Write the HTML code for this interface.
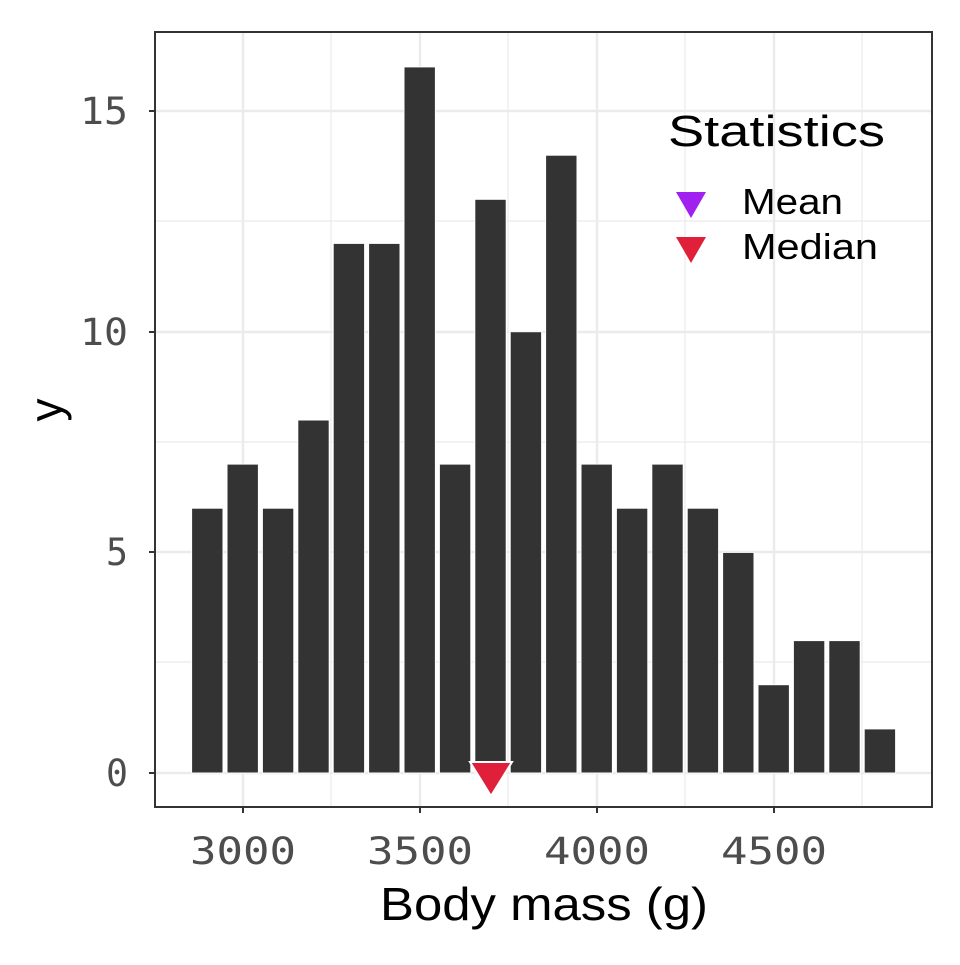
<!DOCTYPE html>
<html><head><style>body{margin:0;background:#fff}</style></head><body>
<svg width="960" height="960" xmlns="http://www.w3.org/2000/svg" font-family="Liberation Sans, sans-serif">
<rect width="960" height="960" fill="#fff"/>
<g stroke="#EBEBEB">
<g stroke-width="1.2">
<line x1="155" x2="932" y1="221" y2="221"/><line x1="155" x2="932" y1="442" y2="442"/><line x1="155" x2="932" y1="662" y2="662"/>
<line y1="32" y2="807" x1="331" x2="331"/><line y1="32" y2="807" x1="508" x2="508"/><line y1="32" y2="807" x1="685" x2="685"/><line y1="32" y2="807" x1="862" x2="862"/>
</g>
<g stroke-width="2.4">
<line x1="155" x2="932" y1="111" y2="111"/><line x1="155" x2="932" y1="332" y2="332"/><line x1="155" x2="932" y1="552" y2="552"/><line x1="155" x2="932" y1="773" y2="773"/>
<line y1="32" y2="807" x1="243" x2="243"/><line y1="32" y2="807" x1="420" x2="420"/><line y1="32" y2="807" x1="597" x2="597"/><line y1="32" y2="807" x1="774" x2="774"/>
</g></g>
<g fill="#333" stroke="#fff" stroke-width="1">
<rect x="191.6" y="508.2" width="31.4" height="264.8"/>
<rect x="227" y="464.1" width="31.4" height="308.9"/>
<rect x="262.4" y="508.2" width="31.4" height="264.8"/>
<rect x="297.8" y="420" width="31.4" height="353"/>
<rect x="333.2" y="243.4" width="31.4" height="529.6"/>
<rect x="368.6" y="243.4" width="31.4" height="529.6"/>
<rect x="404" y="66.9" width="31.4" height="706.1"/>
<rect x="439.4" y="464.1" width="31.4" height="308.9"/>
<rect x="474.8" y="199.3" width="31.4" height="573.7"/>
<rect x="510.2" y="331.7" width="31.4" height="441.3"/>
<rect x="545.6" y="155.2" width="31.4" height="617.8"/>
<rect x="581" y="464.1" width="31.4" height="308.9"/>
<rect x="616.4" y="508.2" width="31.4" height="264.8"/>
<rect x="651.8" y="464.1" width="31.4" height="308.9"/>
<rect x="687.2" y="508.2" width="31.4" height="264.8"/>
<rect x="722.6" y="552.4" width="31.4" height="220.6"/>
<rect x="758" y="684.7" width="31.4" height="88.3"/>
<rect x="793.4" y="640.6" width="31.4" height="132.4"/>
<rect x="828.8" y="640.6" width="31.4" height="132.4"/>
<rect x="864.2" y="728.9" width="31.4" height="44.1"/>
</g>
<polygon points="470,762 512,762 491,796" fill="#E0203A" stroke="#fff" stroke-width="2"/>
<rect x="155" y="32" width="777" height="775" fill="none" stroke="#333" stroke-width="2"/>
<g stroke="#333" stroke-width="2">
<line x1="149" x2="155" y1="111" y2="111"/><line x1="149" x2="155" y1="332" y2="332"/><line x1="149" x2="155" y1="552" y2="552"/><line x1="149" x2="155" y1="773" y2="773"/>
<line y1="807" y2="813" x1="243" x2="243"/><line y1="807" y2="813" x1="420" x2="420"/><line y1="807" y2="813" x1="597" x2="597"/><line y1="807" y2="813" x1="774" x2="774"/>
</g>
<g fill="#4D4D4D" font-size="37" font-family="DejaVu Sans Mono, monospace">
<text x="80" y="124" textLength="48" lengthAdjust="spacingAndGlyphs">15</text>
<text x="80" y="345" textLength="48" lengthAdjust="spacingAndGlyphs">10</text>
<text x="106" y="565" textLength="22" lengthAdjust="spacingAndGlyphs">5</text>
<text x="106" y="786" textLength="22" lengthAdjust="spacingAndGlyphs">0</text>
<text x="190" y="864" textLength="106" lengthAdjust="spacingAndGlyphs">3000</text>
<text x="367" y="864" textLength="106" lengthAdjust="spacingAndGlyphs">3500</text>
<text x="544" y="864" textLength="106" lengthAdjust="spacingAndGlyphs">4000</text>
<text x="721" y="864" textLength="106" lengthAdjust="spacingAndGlyphs">4500</text>
</g>
<text x="380" y="920" font-size="46" textLength="328" lengthAdjust="spacingAndGlyphs">Body mass (g)</text>
<text transform="translate(62,410) rotate(-90)" font-size="46" text-anchor="middle">y</text>
<text x="668" y="146" font-size="44" textLength="217" lengthAdjust="spacingAndGlyphs">Statistics</text>
<polygon points="676,192 706,192 691,218" fill="#A020F0"/>
<polygon points="676,237 706,237 691,263" fill="#E0203A"/>
<text x="742" y="214" font-size="36" textLength="101" lengthAdjust="spacingAndGlyphs">Mean</text>
<text x="742" y="259" font-size="36" textLength="136" lengthAdjust="spacingAndGlyphs">Median</text>
</svg>
</body></html>
